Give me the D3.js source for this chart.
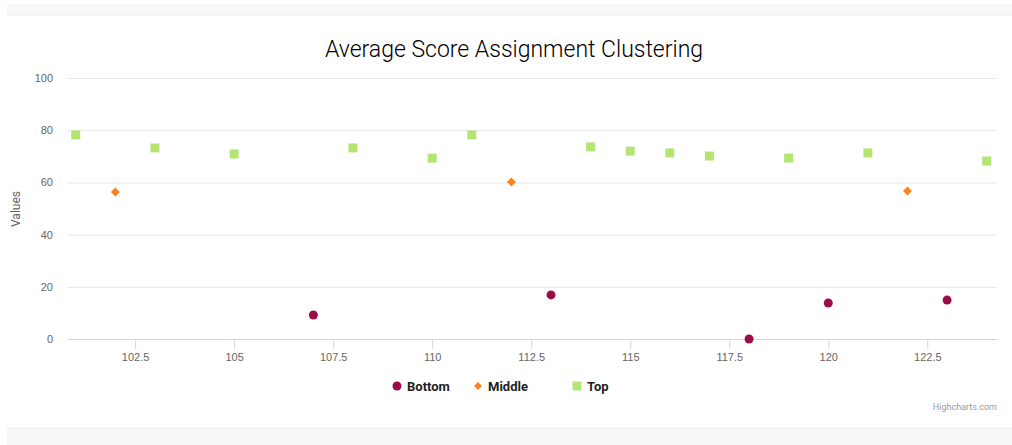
<!DOCTYPE html>
<html>
<head>
    <meta charset="UTF-8" />
    <script src="https://d3js.org/d3.v7.min.js"></script>
    <title>Average Score Assignment Clustering</title>
    <style>
        body { margin: 0; background: #fff; font-family: Roboto, "Open Sans", sans-serif; }
        svg { display: block; }
    </style>
</head>
<body>
<svg></svg>
<script>
    // data
    let bottomX = [107, 113, 118, 120, 123];
    let bottomY = [9.2, 16.9, 0, 13.8, 14.9];

    let middleX = [102, 112, 122];
    let middleY = [56.3, 60.2, 56.7];

    let topX = [101, 103, 105, 108, 110, 111, 114, 115, 116, 117, 119, 121, 124];
    let topY = [78.2, 73.2, 70.9, 73.2, 69.3, 78.2, 73.6, 72.0, 71.3, 70.1, 69.3, 71.3, 68.2];

    let xTicks = [102.5, 105, 107.5, 110, 112.5, 115, 117.5, 120, 122.5];
    let yTicks = [0, 20, 40, 60, 80, 100];

    let seriesNames = ["Bottom", "Middle", "Top"];
    let colors = ["#9b0d45", "#ff801f", "#b4e572"];

    let width = 1012, height = 445;
    let svg = d3.select("svg").attr("width", width).attr("height", height);

    // page bands top and bottom
    svg.append("rect").attr("x", 7).attr("y", 4).attr("width", width - 7).attr("height", 11).attr("fill", "#f7f7f7");
    svg.append("line").attr("x1", 7).attr("x2", width).attr("y1", 15).attr("y2", 15).attr("stroke", "#ececec");
    svg.append("rect").attr("x", 7).attr("y", 428).attr("width", width - 7).attr("height", 17).attr("fill", "#f7f7f7");
    svg.append("line").attr("x1", 7).attr("x2", width).attr("y1", 428).attr("y2", 428).attr("stroke", "#ececec");

    let x = d3.scaleLinear().domain([100.78, 124.26]).range([67, 997]);
    let y = d3.scaleLinear().domain([0, 100]).range([339, 78]);

    // title
    svg.append("text")
        .attr("x", 514).attr("y", 57)
        .attr("text-anchor", "middle")
        .style("font-size", "23px")
        .style("font-weight", "300")
        .style("fill", "#000")
        .text("Average Score Assignment Clustering");

    // gridlines + y axis
    let yAxis = svg.append("g")
        .attr("transform", "translate(67,0)")
        .attr("color", "#666")
        .call(d3.axisLeft(y).tickValues(yTicks).tickSize(-930).tickPadding(14));
    yAxis.select(".domain").remove();
    yAxis.selectAll(".tick line").attr("stroke", "#e6e6e6");
    yAxis.selectAll(".tick text").attr("fill", "#666").style("font-size", "11px");

    svg.append("text")
        .attr("transform", "translate(20,209) rotate(-90)")
        .attr("text-anchor", "middle")
        .style("font-size", "12px")
        .style("fill", "#666")
        .text("Values");

    // x axis
    let xAxis = svg.append("g")
        .attr("transform", "translate(0,339)")
        .attr("color", "#666")
        .call(d3.axisBottom(x).tickValues(xTicks).tickSize(10).tickSizeOuter(0).tickPadding(4).tickFormat(d3.format("")));
    xAxis.select(".domain").attr("stroke", "#ccd6eb");
    xAxis.selectAll(".tick line").attr("stroke", "#ccd6eb");
    xAxis.selectAll(".tick text").attr("fill", "#666").style("font-size", "11px");

    // points
    let plot = svg.append("g");
    plot.selectAll(".top").data(topX).enter().append("rect")
        .attr("x", (d) => x(d) - 4.5)
        .attr("y", (d, i) => y(topY[i]) - 4.5)
        .attr("width", 9).attr("height", 9)
        .attr("fill", colors[2]);

    plot.selectAll(".mid").data(middleX).enter().append("path")
        .attr("transform", (d, i) => "translate(" + x(d) + "," + y(middleY[i]) + ")")
        .attr("d", "M0,-4.5L4.5,0L0,4.5L-4.5,0Z")
        .attr("fill", colors[1]);

    plot.selectAll(".bot").data(bottomX).enter().append("circle")
        .attr("cx", (d) => x(d))
        .attr("cy", (d, i) => y(bottomY[i]))
        .attr("r", 4.5)
        .attr("fill", colors[0]);

    // legend
    let legendX = [397, 478, 577];
    let legend = svg.append("g");
    seriesNames.forEach((name, i) => {
        let g = legend.append("g").attr("transform", "translate(" + legendX[i] + ",386)");
        if (i == 0) g.append("circle").attr("r", 4.5).attr("fill", colors[i]);
        else if (i == 1) g.append("path").attr("d", "M0,-4L4,0L0,4L-4,0Z").attr("fill", colors[i]);
        else g.append("rect").attr("x", -4.5).attr("y", -4.5).attr("width", 9).attr("height", 9).attr("fill", colors[i]);
        g.append("text")
            .attr("x", 10).attr("y", 5)
            .style("font-size", "13px")
            .style("font-weight", "bold")
            .style("fill", "#222")
            .text(name);
    });

    // credits
    svg.append("text")
        .attr("x", 997).attr("y", 410)
        .attr("text-anchor", "end")
        .style("font-size", "9px")
        .style("fill", "#999")
        .text("Highcharts.com");
</script>
</body>
</html>
